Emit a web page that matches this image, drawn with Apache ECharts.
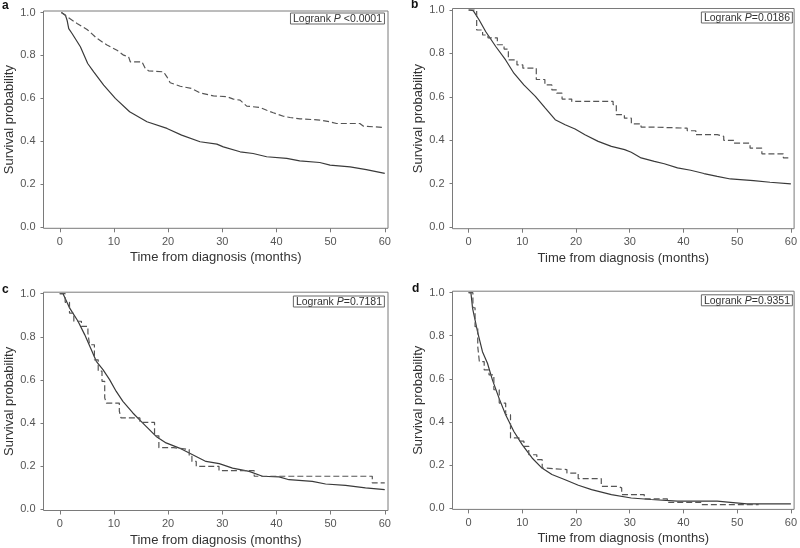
<!DOCTYPE html>
<html>
<head>
<meta charset="utf-8">
<script src="https://cdn.jsdelivr.net/npm/echarts@6/dist/echarts.min.js"></script>
<style>html,body{margin:0;padding:0;background:#fff}#c{width:800px;height:548px}</style>
</head>
<body>
<div id="c"></div>
<script>
// ---- data (time in months, survival probability) ----
const panelLetters = ['a', 'b', 'c', 'd'];
const pValues = [' <0.0001', '=0.0186', '=0.7181', '=0.9351'];
const xTicks = [0, 10, 20, 30, 40, 50, 60];
const yTicks = [0, 0.2, 0.4, 0.6, 0.8, 1.0];
const xTitle = 'Time from diagnosis (months)';
const yTitle = 'Survival probability';

const aSolid = [[0.3,1.0],[1.04,0.988],[1.35,0.964],[1.66,0.925],[2.27,0.902],[3.81,0.84],[5.16,0.762],[6.27,0.723],[8.11,0.661],[10.26,0.599],[12.9,0.537],[16.1,0.49],[19.8,0.459],[22.5,0.428],[25.9,0.397],[29.0,0.386],[30.2,0.373],[33.3,0.35],[35.7,0.342],[38.2,0.327],[41.9,0.319],[44.3,0.308],[48.0,0.3],[49.9,0.288],[53.6,0.28],[56.6,0.267],[60,0.249]];
const aDashed = [[0.3,1.0],[1.35,0.98],[3.19,0.949],[5.04,0.921],[6.88,0.879],[8.72,0.848],[10.57,0.824],[11.79,0.801],[12.71,0.793],[13.02,0.77],[15.17,0.77],[15.79,0.739],[16.4,0.728],[19.16,0.723],[19.78,0.7],[20.39,0.672],[22.24,0.656],[24.39,0.645],[25.92,0.625],[28.38,0.611],[30.84,0.607],[32.06,0.596],[33.29,0.591],[34.52,0.563],[36.98,0.557],[38.21,0.544],[39.43,0.532],[41.28,0.516],[42.51,0.51],[44.35,0.504],[48.03,0.498],[49.88,0.49],[51.11,0.482],[55.4,0.482],[56.02,0.47],[60,0.463]];

const bSolid = [[0,1],[0.86,0.997],[1.97,0.954],[3.2,0.9],[5.05,0.832],[6.89,0.77],[8.43,0.709],[10.28,0.655],[12.43,0.602],[14.28,0.548],[16.12,0.495],[17.97,0.472],[19.82,0.452],[21.66,0.426],[24.12,0.395],[26.58,0.372],[29.05,0.357],[30.28,0.345],[32.12,0.319],[34.58,0.303],[36.43,0.292],[38.89,0.273],[41.35,0.262],[43.82,0.247],[46.28,0.234],[48.74,0.222],[50.58,0.219],[53.05,0.214],[56.12,0.207],[60,0.199]];
const bDashed = [[0,1],[1.5,0.908],[2.6,0.885],[3.6,0.872],[5.35,0.84],[6.6,0.82],[7.4,0.77],[9.0,0.747],[10.1,0.732],[12.6,0.68],[14.2,0.655],[15.5,0.632],[16.4,0.617],[17.4,0.59],[19.2,0.579],[26.9,0.564],[27.5,0.518],[29.0,0.502],[30.3,0.476],[32.1,0.461],[33.9,0.456],[40.7,0.444],[42.3,0.426],[46.3,0.418],[47.5,0.4],[49.4,0.387],[52.4,0.364],[54.6,0.338],[58.6,0.319],[60,0.319]];

const cSolid = [[0,1],[0.61,1],[1.84,0.933],[3.37,0.872],[4.6,0.81],[5.83,0.74],[6.75,0.686],[7.98,0.647],[9.2,0.601],[10.43,0.546],[11.66,0.5],[13.5,0.446],[15.34,0.399],[17.8,0.337],[19.63,0.307],[22.09,0.283],[24.54,0.252],[26.99,0.221],[29.45,0.211],[31.9,0.19],[34.97,0.175],[37.42,0.152],[40.49,0.149],[42.33,0.136],[46.63,0.128],[49.08,0.116],[52.76,0.11],[56.44,0.098],[60,0.09]];
const cDashed = [[0,1],[1.0,0.96],[1.8,0.91],[2.6,0.872],[4.0,0.848],[5.2,0.817],[5.5,0.763],[6.4,0.693],[7.1,0.64],[7.8,0.593],[8.3,0.516],[8.6,0.492],[11.0,0.454],[11.3,0.423],[14.8,0.402],[17.5,0.34],[18.3,0.285],[21.0,0.276],[23.9,0.245],[24.4,0.221],[25.2,0.198],[29.4,0.178],[35.9,0.152],[57.7,0.121],[60,0.121]];

const dSolid = [[0,1],[0.43,1],[0.74,0.927],[1.66,0.819],[2.58,0.726],[3.51,0.672],[4.43,0.595],[5.66,0.51],[6.89,0.433],[8.43,0.355],[9.97,0.294],[11.82,0.232],[13.66,0.185],[15.51,0.155],[17.97,0.131],[20.43,0.105],[22.89,0.085],[26.58,0.062],[30.28,0.046],[33.97,0.039],[38.89,0.031],[46.28,0.031],[48.74,0.026],[51.82,0.019],[60,0.019]];
const dDashed = [[0,1],[0.8,0.93],[1.2,0.842],[1.7,0.75],[2.0,0.68],[2.9,0.641],[3.8,0.618],[4.7,0.549],[5.7,0.487],[6.9,0.433],[7.8,0.325],[9.4,0.31],[10.3,0.286],[11.2,0.247],[12.7,0.224],[13.7,0.185],[14.3,0.178],[18.3,0.162],[20.4,0.136],[24.7,0.1],[27.8,0.093],[28.5,0.062],[32.7,0.042],[37.0,0.026],[43.4,0.015],[54.0,0.015]];

const solids = [aSolid, bSolid, cSolid, dSolid];
const dashes = [aDashed, bDashed, cDashed, dDashed];
const dashedStep = [false, 'end', 'end', 'end'];

// ---- layout ----
const grids = [
  {left: 43.5, top: 11, width: 344.5, height: 217.3},
  {left: 452.5, top: 8.5, width: 344.5, height: 220.2},
  {left: 43.5, top: 292.2, width: 344.5, height: 218.3},
  {left: 452.5, top: 291.2, width: 344.5, height: 218.2}
];
const boxes = [
  {right: 415, top: 12.5},
  {right: 7, top: 11.5},
  {right: 415, top: 295.5},
  {right: 7, top: 294.3}
];
const letterPos = [[2, 6], [411, 5], [2, 290], [412, 289]];

const FONT = 'Liberation Sans, Arial, sans-serif';
const frameColor = '#7a7a7a';

const option = {
  animation: false,
  backgroundColor: '#fff',
  grid: grids.map(g => Object.assign({show: true, borderColor: frameColor, borderWidth: 1, backgroundColor: 'transparent'}, g)),
  xAxis: grids.map((g, i) => ({
    type: 'value', gridIndex: i, min: -3, max: 60.6,
    name: xTitle, nameLocation: 'middle', nameGap: 23,
    nameTextStyle: {fontFamily: FONT, fontSize: 13, color: '#333'},
    axisLine: {show: false, onZero: false},
    splitLine: {show: false},
    axisTick: {show: true, length: 4, customValues: xTicks, lineStyle: {color: frameColor}},
    axisLabel: {customValues: xTicks, margin: 8, fontFamily: FONT, fontSize: 11, color: '#555'}
  })),
  yAxis: grids.map((g, i) => ({
    type: 'value', gridIndex: i, min: -0.007, max: 1.007,
    name: yTitle, nameLocation: 'middle', nameGap: 28,
    nameTextStyle: {fontFamily: FONT, fontSize: 13, color: '#333'},
    axisLine: {show: false, onZero: false},
    splitLine: {show: false},
    axisTick: {show: true, length: 3, customValues: yTicks, lineStyle: {color: frameColor}},
    axisLabel: {customValues: yTicks, margin: 8, fontFamily: FONT, fontSize: 11, color: '#555',
      formatter: v => v.toFixed(1)}
  })),
  title: boxes.map((b, i) => ({
    text: '{n|Logrank }{i|P}{n|' + pValues[i] + '}',
    right: b.right, top: b.top,
    borderColor: '#666', borderWidth: 1, padding: [1, 3, 0, 3],
    textStyle: {
      fontSize: 10.5, fontFamily: FONT, color: '#333', fontWeight: 'normal',
      rich: {
        n: {fontSize: 10.5, fontFamily: FONT, color: '#333'},
        i: {fontSize: 10.5, fontFamily: FONT, color: '#333', fontStyle: 'italic'}
      }
    }
  })),
  graphic: panelLetters.map((l, i) => ({
    type: 'text', left: letterPos[i][0], top: letterPos[i][1] - 6,
    style: {text: l, font: 'bold 12px ' + FONT, fill: '#111'}
  })),
  series: []
};

for (let i = 0; i < 4; i++) {
  option.series.push({
    type: 'line', xAxisIndex: i, yAxisIndex: i, data: solids[i],
    showSymbol: false, symbol: 'none', clip: true,
    lineStyle: {color: '#3a3a3a', width: 1.2}
  });
  option.series.push({
    type: 'line', xAxisIndex: i, yAxisIndex: i, data: dashes[i],
    step: dashedStep[i], showSymbol: false, symbol: 'none', clip: true,
    lineStyle: {color: '#555', width: 1.2, type: [6, 3]}
  });
}

const chart = echarts.init(document.getElementById('c'), null, {renderer: 'canvas'});
chart.setOption(option);
</script>
</body>
</html>
